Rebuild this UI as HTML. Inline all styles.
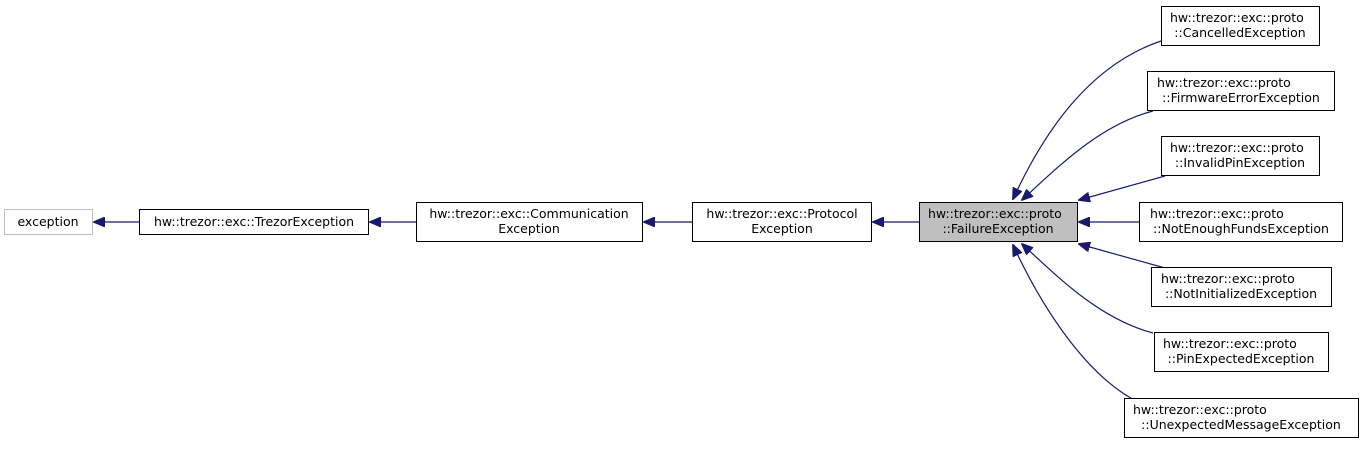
<!DOCTYPE html>
<html><head><meta charset="utf-8"><style>
body{margin:0;background:#fff;width:1361px;height:444px;overflow:hidden}
svg text{font-family:"DejaVu Sans","Liberation Sans",sans-serif;font-size:12.5px;fill:#000}
</style></head><body>
<svg width="1361" height="444" viewBox="0 0 1361 444" xmlns="http://www.w3.org/2000/svg">
<defs><marker id="a" markerWidth="12" markerHeight="10" refX="11" refY="5" orient="auto" markerUnits="userSpaceOnUse"><path d="M0,0 L12,5 L0,10 z" fill="#191970" stroke="#191970"/></marker></defs>
<g fill="none" stroke="#191970" stroke-width="1.2">
<path d="M139,222 L94,222" marker-end="url(#a)"/>
<path d="M416,222 L370,222" marker-end="url(#a)"/>
<path d="M692,222 L644,222" marker-end="url(#a)"/>
<path d="M919,222 L873,222" marker-end="url(#a)"/>
<path d="M1139,222 L1079,222" marker-end="url(#a)"/>
<path d="M1161,41 C1090,65 1045,130 1013,199" marker-end="url(#a)"/>
<path d="M1153,111 C1100,125 1060,165 1022,200" marker-end="url(#a)"/>
<path d="M1165,176 L1079,200" marker-end="url(#a)"/>
<path d="M1165,268 L1079,244" marker-end="url(#a)"/>
<path d="M1153,333 C1100,319 1060,279 1022,244" marker-end="url(#a)"/>
<path d="M1140,403 C1090,379 1045,314 1013,245" marker-end="url(#a)"/>
</g>
<g stroke-width="1">
<rect x="4.5" y="209.5" width="88" height="25" fill="#fff" stroke="#bfbfbf"/>
<rect x="139.5" y="209.5" width="229" height="25" fill="#fff" stroke="#000"/>
<rect x="416.5" y="202.5" width="226" height="39" fill="#fff" stroke="#000"/>
<rect x="692.5" y="202.5" width="179" height="39" fill="#fff" stroke="#000"/>
<rect x="919.5" y="202.5" width="158" height="39" fill="#bfbfbf" stroke="#000"/>
<rect x="1161.5" y="6.5" width="158" height="39" fill="#fff" stroke="#000"/>
<rect x="1147.5" y="71.5" width="187" height="39" fill="#fff" stroke="#000"/>
<rect x="1161.5" y="136.5" width="158" height="39" fill="#fff" stroke="#000"/>
<rect x="1139.5" y="202.5" width="203" height="39" fill="#fff" stroke="#000"/>
<rect x="1151.5" y="267.5" width="180" height="39" fill="#fff" stroke="#000"/>
<rect x="1154.5" y="332.5" width="174" height="39" fill="#fff" stroke="#000"/>
<rect x="1124.5" y="398.5" width="234" height="39" fill="#fff" stroke="#000"/>
</g>
<text x="48" y="226" text-anchor="middle">exception</text>
<text x="254" y="226" text-anchor="middle">hw::trezor::exc::TrezorException</text>
<text x="529" y="218" text-anchor="middle">hw::trezor::exc::Communication</text>
<text x="529" y="233" text-anchor="middle">Exception</text>
<text x="782" y="218" text-anchor="middle">hw::trezor::exc::Protocol</text>
<text x="782" y="233" text-anchor="middle">Exception</text>
<text x="928" y="218">hw::trezor::exc::proto</text>
<text x="998" y="233" text-anchor="middle">::FailureException</text>
<text x="1170" y="22">hw::trezor::exc::proto</text><text x="1240" y="37" text-anchor="middle">::CancelledException</text>
<text x="1157" y="87">hw::trezor::exc::proto</text><text x="1241" y="102" text-anchor="middle">::FirmwareErrorException</text>
<text x="1170" y="152">hw::trezor::exc::proto</text><text x="1240" y="167" text-anchor="middle">::InvalidPinException</text>
<text x="1150" y="218">hw::trezor::exc::proto</text><text x="1241" y="233" text-anchor="middle">::NotEnoughFundsException</text>
<text x="1161" y="283">hw::trezor::exc::proto</text><text x="1241" y="298" text-anchor="middle">::NotInitializedException</text>
<text x="1163" y="348">hw::trezor::exc::proto</text><text x="1241" y="363" text-anchor="middle">::PinExpectedException</text>
<text x="1133" y="414">hw::trezor::exc::proto</text><text x="1241" y="429" text-anchor="middle">::UnexpectedMessageException</text>
</svg>
</body></html>
